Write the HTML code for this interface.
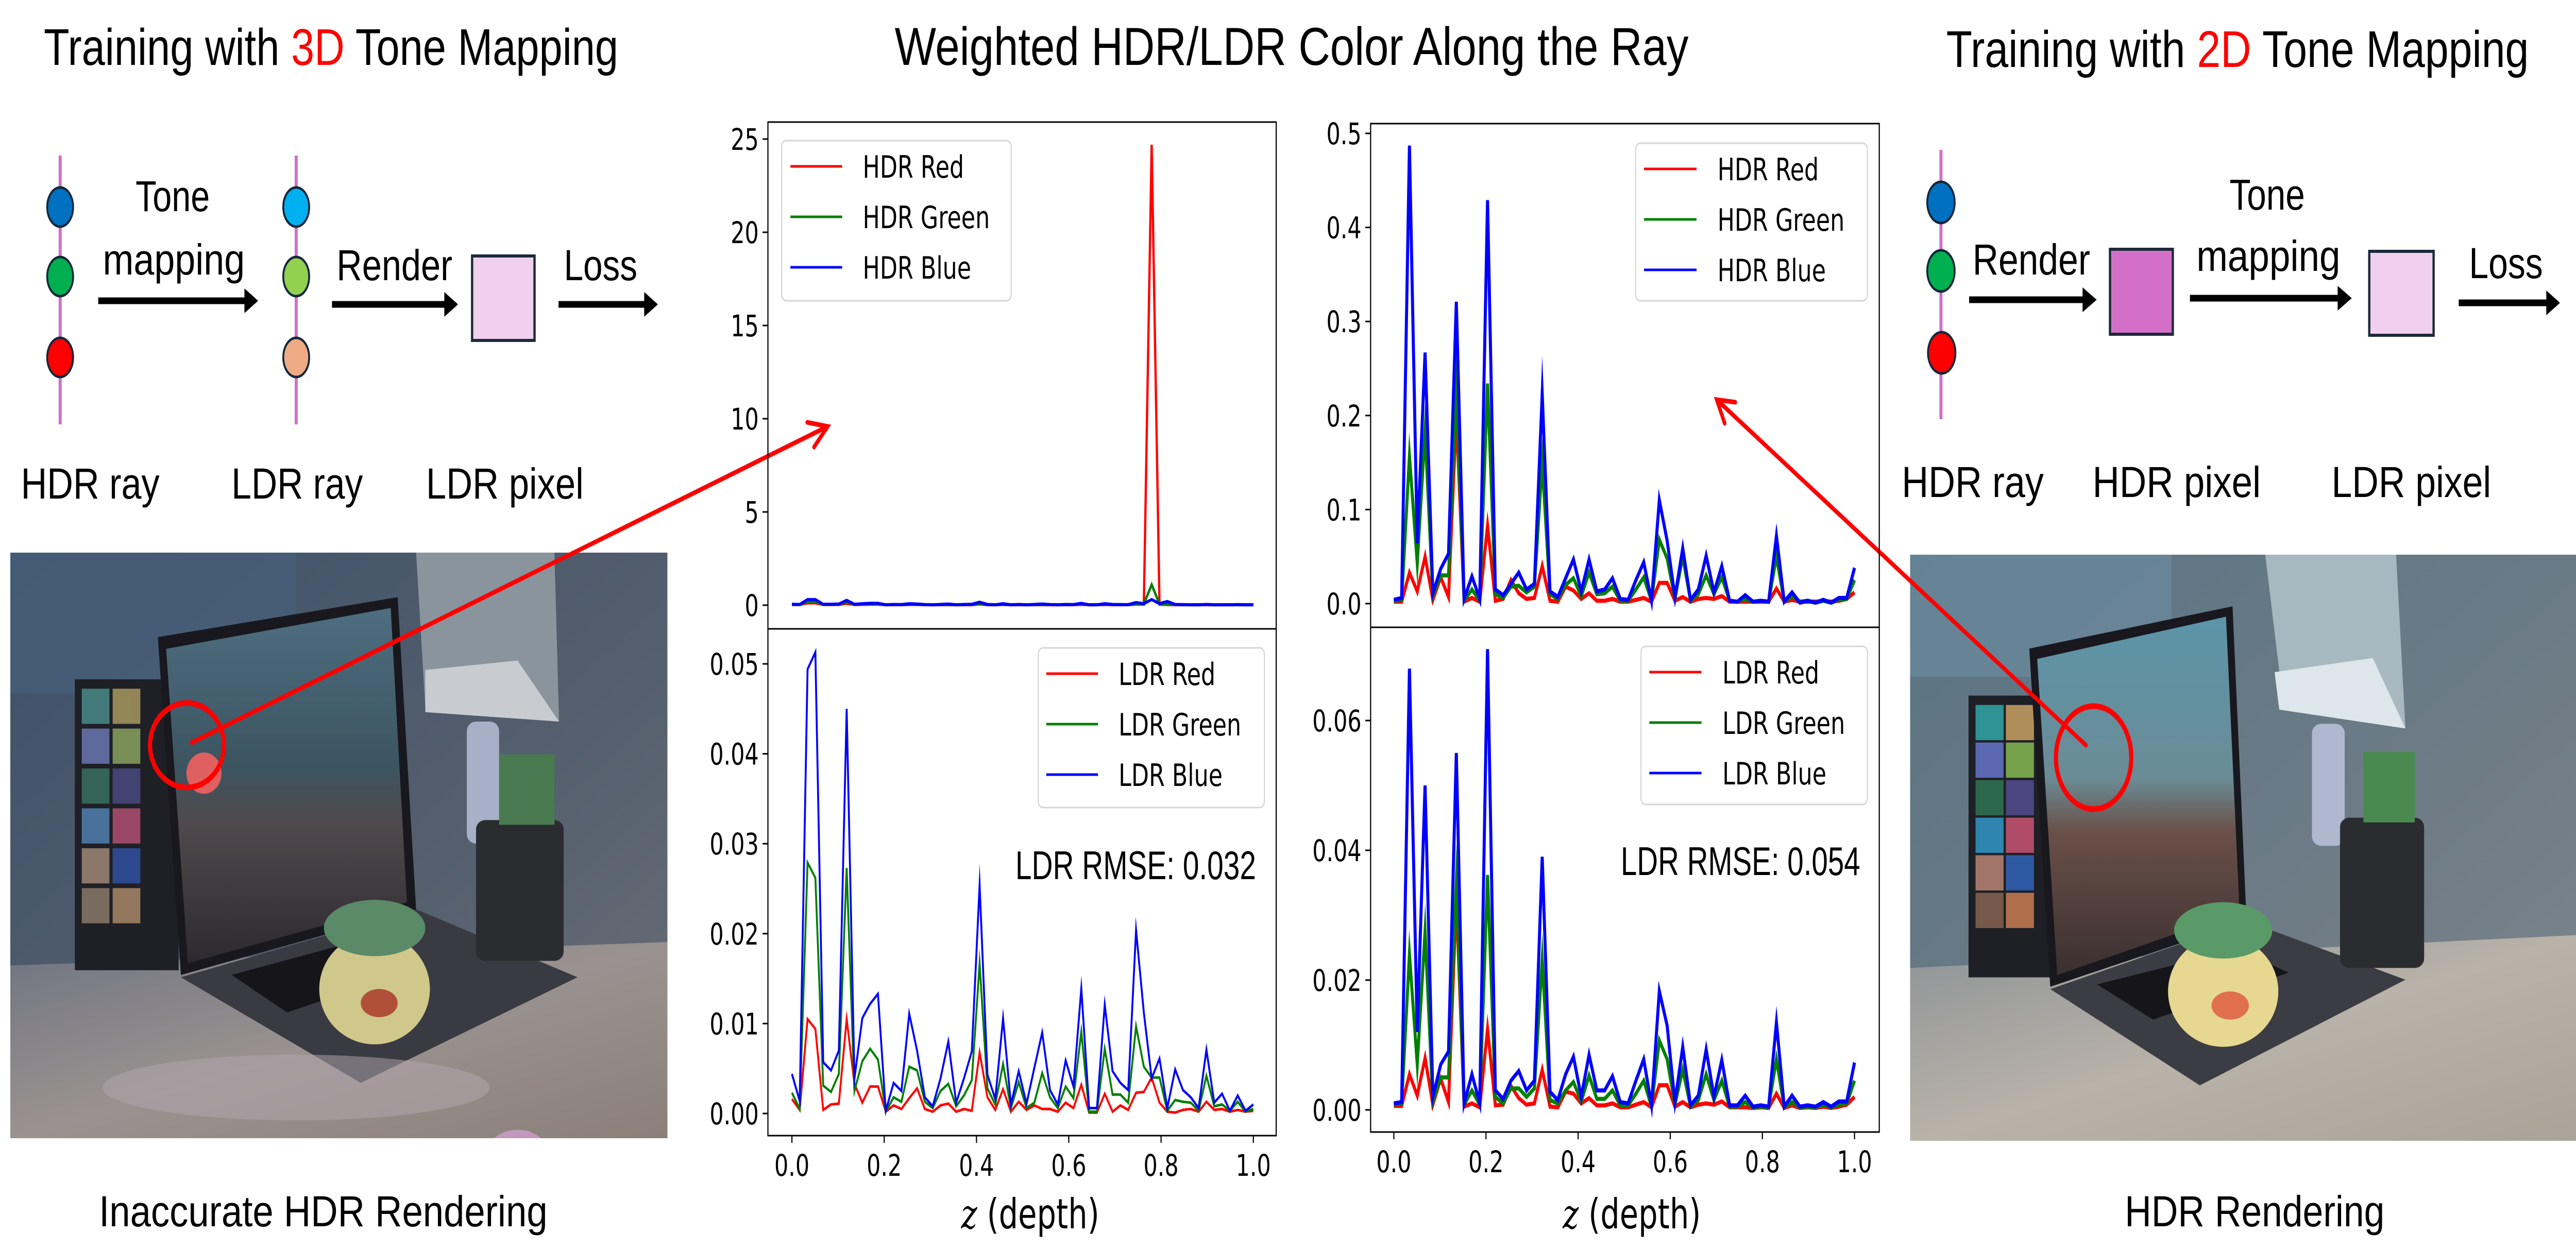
<!DOCTYPE html>
<html><head><meta charset="utf-8"><style>
html,body{margin:0;padding:0;background:#fff;width:100%;height:100%;overflow:hidden}
#fig{display:block;width:100vw;height:100vh}
.dg{font-family:"Liberation Sans",sans-serif;fill:#000}
.mpl{font-family:"DejaVu Sans","Liberation Sans",sans-serif;fill:#000}
</style></head><body>
<svg id="fig" viewBox="0 0 6766 2429" preserveAspectRatio="none" xmlns="http://www.w3.org/2000/svg">
<defs>
<linearGradient id="wallL" x1="0" y1="0" x2="1" y2="1"><stop offset="0" stop-color="#3e5068"/><stop offset="0.6" stop-color="#55606e"/><stop offset="1" stop-color="#6a7078"/></linearGradient>
<linearGradient id="deskL" x1="0" y1="0" x2="1" y2="1"><stop offset="0" stop-color="#6f7480"/><stop offset="0.5" stop-color="#9a9290"/><stop offset="1" stop-color="#8a8078"/></linearGradient>
<linearGradient id="wallR" x1="0" y1="0" x2="1" y2="1"><stop offset="0" stop-color="#5a7484"/><stop offset="0.6" stop-color="#6e7c86"/><stop offset="1" stop-color="#7e868c"/></linearGradient>
<linearGradient id="deskR" x1="0" y1="0" x2="1" y2="1"><stop offset="0" stop-color="#8c9296"/><stop offset="0.5" stop-color="#b8b2a8"/><stop offset="1" stop-color="#aaa398"/></linearGradient>
<linearGradient id="scrL" x1="0" y1="0" x2="0" y2="1"><stop offset="0" stop-color="#4e6e80"/><stop offset="0.45" stop-color="#3c5460"/><stop offset="0.6" stop-color="#504a4c"/><stop offset="1" stop-color="#2c2a30"/></linearGradient>
<linearGradient id="scrR" x1="0" y1="0" x2="0" y2="1"><stop offset="0" stop-color="#5c94a8"/><stop offset="0.45" stop-color="#6a8c96"/><stop offset="0.6" stop-color="#6a5048"/><stop offset="1" stop-color="#3a3030"/></linearGradient>
</defs>

<!-- ===== Left diagram ===== -->
<g>
<text class="dg" x="115" y="126" font-size="100" textLength="1509" lengthAdjust="spacingAndGlyphs">Training with <tspan fill="#ff0000">3D</tspan> Tone Mapping</text>
<line x1="158" y1="302" x2="158" y2="824" stroke="#d070c8" stroke-width="8"/>
<ellipse cx="158" cy="402" rx="34" ry="38" fill="#0070c0" stroke="#14283a" stroke-width="5"/>
<ellipse cx="158" cy="537" rx="34" ry="38" fill="#00b050" stroke="#14283a" stroke-width="5"/>
<ellipse cx="158" cy="694" rx="34" ry="38" fill="#ff0000" stroke="#14283a" stroke-width="5"/>
<text class="dg" x="356" y="410" font-size="84" textLength="195" lengthAdjust="spacingAndGlyphs">Tone</text>
<text class="dg" x="270" y="533" font-size="84" textLength="373" lengthAdjust="spacingAndGlyphs">mapping</text>
<line x1="258" y1="584" x2="650" y2="584" stroke="#000" stroke-width="13"/><polygon points="642,560 678,584 642,608" fill="#000"/>
<line x1="778" y1="302" x2="778" y2="824" stroke="#d070c8" stroke-width="8"/>
<ellipse cx="778" cy="402" rx="34" ry="38" fill="#00b0f0" stroke="#14283a" stroke-width="5"/>
<ellipse cx="778" cy="537" rx="34" ry="38" fill="#92d050" stroke="#14283a" stroke-width="5"/>
<ellipse cx="778" cy="694" rx="34" ry="38" fill="#eeaa84" stroke="#14283a" stroke-width="5"/>
<text class="dg" x="884" y="544" font-size="84" textLength="304" lengthAdjust="spacingAndGlyphs">Render</text>
<line x1="872" y1="591" x2="1175" y2="591" stroke="#000" stroke-width="13"/><polygon points="1167,567 1203,591 1167,615" fill="#000"/>
<rect x="1240" y="497" width="164" height="164" fill="#f0d0ee" stroke="#1c2a3a" stroke-width="6"/>
<text class="dg" x="1481" y="544" font-size="84" textLength="193" lengthAdjust="spacingAndGlyphs">Loss</text>
<line x1="1467" y1="591" x2="1700" y2="591" stroke="#000" stroke-width="13"/><polygon points="1692,567 1728,591 1692,615" fill="#000"/>
<text class="dg" x="55" y="968" font-size="84" textLength="364" lengthAdjust="spacingAndGlyphs">HDR  ray</text>
<text class="dg" x="608" y="968" font-size="84" textLength="345" lengthAdjust="spacingAndGlyphs">LDR  ray</text>
<text class="dg" x="1119" y="968" font-size="84" textLength="414" lengthAdjust="spacingAndGlyphs">LDR  pixel</text>
</g>

<!-- ===== Right diagram ===== -->
<g>
<text class="dg" x="5112" y="130" font-size="100" textLength="1530" lengthAdjust="spacingAndGlyphs">Training with <tspan fill="#ff0000">2D</tspan> Tone Mapping</text>
<line x1="5098" y1="291" x2="5098" y2="814" stroke="#d070c8" stroke-width="8"/>
<ellipse cx="5098" cy="393" rx="36" ry="40" fill="#0070c0" stroke="#14283a" stroke-width="5"/>
<ellipse cx="5098" cy="526" rx="36" ry="40" fill="#00b050" stroke="#14283a" stroke-width="5"/>
<ellipse cx="5100" cy="685" rx="36" ry="40" fill="#ff0000" stroke="#14283a" stroke-width="5"/>
<text class="dg" x="5181" y="533" font-size="84" textLength="309" lengthAdjust="spacingAndGlyphs">Render</text>
<line x1="5172" y1="582" x2="5478" y2="582" stroke="#000" stroke-width="13"/><polygon points="5470,558 5507,582 5470,606" fill="#000"/>
<rect x="5542" y="484" width="165" height="165" fill="#d46fc8" stroke="#1c2a3a" stroke-width="6"/>
<text class="dg" x="5856" y="407" font-size="84" textLength="198" lengthAdjust="spacingAndGlyphs">Tone</text>
<text class="dg" x="5769" y="526" font-size="84" textLength="378" lengthAdjust="spacingAndGlyphs">mapping</text>
<line x1="5752" y1="579" x2="6148" y2="579" stroke="#000" stroke-width="13"/><polygon points="6140,555 6177,579 6140,603" fill="#000"/>
<rect x="6223" y="488" width="169" height="163" fill="#f0d0ee" stroke="#1c2a3a" stroke-width="6"/>
<text class="dg" x="6485" y="540" font-size="84" textLength="194" lengthAdjust="spacingAndGlyphs">Loss</text>
<line x1="6458" y1="588" x2="6696" y2="588" stroke="#000" stroke-width="13"/><polygon points="6688,564 6724,588 6688,612" fill="#000"/>
<text class="dg" x="4995" y="965" font-size="84" textLength="373" lengthAdjust="spacingAndGlyphs">HDR  ray</text>
<text class="dg" x="5496" y="965" font-size="84" textLength="442" lengthAdjust="spacingAndGlyphs">HDR  pixel</text>
<text class="dg" x="6124" y="965" font-size="84" textLength="419" lengthAdjust="spacingAndGlyphs">LDR  pixel</text>
</g>

<!-- ===== Photos ===== -->
<svg x="27" y="1073" width="1726" height="1137" viewBox="0 0 1425 1248" preserveAspectRatio="none">
<rect width="1425" height="1248" fill="url(#wallL)"/>
<rect x="0" y="0" width="620" height="300" fill="#47607c" opacity="0.7"/>
<polygon points="0,880 1425,830 1425,1248 0,1248" fill="url(#deskL)"/>
<rect x="140" y="270" width="225" height="620" fill="#1e2026"/>
<g opacity="0.85"><rect x="155" y="290" width="60" height="75" fill="#4a8a8a"/><rect x="222" y="290" width="60" height="75" fill="#a89860"/><rect x="155" y="375" width="60" height="75" fill="#6a78b0"/><rect x="222" y="375" width="60" height="75" fill="#8aa060"/><rect x="155" y="460" width="60" height="75" fill="#3a7060"/><rect x="222" y="460" width="60" height="75" fill="#4a4a80"/><rect x="155" y="545" width="60" height="75" fill="#5080b0"/><rect x="222" y="545" width="60" height="75" fill="#b05070"/><rect x="155" y="630" width="60" height="75" fill="#a08878"/><rect x="222" y="630" width="60" height="75" fill="#3050a0"/><rect x="155" y="715" width="60" height="75" fill="#8a7a6a"/><rect x="222" y="715" width="60" height="75" fill="#a88868"/></g>
<polygon points="320,180 840,95 880,760 370,900" fill="#18181e"/>
<polygon points="338,205 825,118 860,745 385,875" fill="url(#scrL)"/>
<polygon points="370,905 880,760 1230,905 760,1130" fill="#3a3a42"/>
<polygon points="480,900 780,820 900,880 600,980" fill="#15151a"/>
<polygon points="880,0 1180,0 1190,360 900,330" fill="#8a949c"/>
<polygon points="900,250 1100,230 1190,360 900,340" fill="#c8ccd0"/>
<rect x="990" y="360" width="70" height="260" rx="20" fill="#a8b0c8"/>
<rect x="1010" y="570" width="190" height="300" rx="20" fill="#2a2c30"/>
<rect x="1060" y="430" width="120" height="150" fill="#4a7a50"/>
<ellipse cx="790" cy="930" rx="120" ry="118" fill="#cfc88a"/>
<ellipse cx="790" cy="800" rx="110" ry="60" fill="#5a8a68"/>
<ellipse cx="800" cy="960" rx="40" ry="30" fill="#b0503a"/>
<ellipse cx="620" cy="1140" rx="420" ry="70" fill="#b4a8b0" opacity="0.5"/>
<ellipse cx="1100" cy="1270" rx="60" ry="40" fill="#d8a0d8" opacity="0.7"/>
<ellipse cx="420" cy="470" rx="38" ry="44" fill="#e06060"/>
</svg>
<svg x="5017" y="1077" width="1749" height="1138" viewBox="0 0 1425 1248" preserveAspectRatio="none">
<rect width="1425" height="1248" fill="url(#wallR)"/>
<rect x="0" y="0" width="560" height="260" fill="#6b8a9c" opacity="0.7"/>
<polygon points="0,880 1425,810 1425,1248 0,1248" fill="url(#deskR)"/>
<rect x="125" y="300" width="225" height="600" fill="#1e2026"/>
<g opacity="0.9"><rect x="140" y="320" width="60" height="75" fill="#30a0a0"/><rect x="205" y="320" width="60" height="75" fill="#c09a60"/><rect x="140" y="400" width="60" height="75" fill="#6070c0"/><rect x="205" y="400" width="60" height="75" fill="#80b050"/><rect x="140" y="480" width="60" height="75" fill="#307050"/><rect x="205" y="480" width="60" height="75" fill="#504a8a"/><rect x="140" y="560" width="60" height="75" fill="#3090c0"/><rect x="205" y="560" width="60" height="75" fill="#c05070"/><rect x="140" y="640" width="60" height="75" fill="#b08070"/><rect x="205" y="640" width="60" height="75" fill="#3060b0"/><rect x="140" y="720" width="60" height="75" fill="#806050"/><rect x="205" y="720" width="60" height="75" fill="#c07850"/></g>
<polygon points="255,200 690,110 720,780 300,920" fill="#18181e"/>
<polygon points="272,222 676,132 705,760 315,895" fill="url(#scrR)"/>
<polygon points="300,925 720,780 1060,905 620,1130" fill="#3c3c44"/>
<polygon points="400,915 700,840 810,890 520,990" fill="#15151a"/>
<polygon points="760,0 1040,0 1060,370 800,330" fill="#a8b8c0"/>
<polygon points="780,250 990,220 1060,370 790,330" fill="#dde6ea"/>
<rect x="860" y="360" width="70" height="260" rx="20" fill="#b0b8d0"/>
<rect x="920" y="560" width="180" height="320" rx="20" fill="#2a2c30"/>
<rect x="970" y="420" width="110" height="150" fill="#4a8a50"/>
<ellipse cx="670" cy="930" rx="118" ry="118" fill="#e6d890"/>
<ellipse cx="670" cy="800" rx="105" ry="60" fill="#5a9a68"/>
<ellipse cx="685" cy="960" rx="40" ry="30" fill="#e07050"/>
</svg>

<!-- photo circles & connector arrows -->
<ellipse cx="491" cy="1447" rx="97" ry="82" fill="none" stroke="#ff0000" stroke-width="11"/>
<ellipse cx="5499" cy="1471" rx="99" ry="100" fill="none" stroke="#ff0000" stroke-width="11"/>
<g stroke="#ff0000" stroke-width="9" fill="none" stroke-linecap="round">
<line x1="503" y1="1442" x2="2174" y2="828"/>
<polyline points="2120,820 2174,828 2138,868"/>
<line x1="5479" y1="1447" x2="4509" y2="776"/>
<polyline points="4530,822 4509,776 4558,781"/>
</g>

<text class="dg" x="260" y="2381" font-size="84" textLength="1178" lengthAdjust="spacingAndGlyphs">Inaccurate  HDR  Rendering</text>
<text class="dg" x="5581" y="2381" font-size="84" textLength="682" lengthAdjust="spacingAndGlyphs">HDR  Rendering</text>
<text class="dg" x="2350" y="126" font-size="104" textLength="2085" lengthAdjust="spacingAndGlyphs">Weighted  HDR/LDR  Color  Along  the  Ray</text>

<g id="charts"></g>
</svg>

<script>
// ---- data (60 samples along the ray) ----
const zTicks = [0.0, 0.2, 0.4, 0.6, 0.8, 1.0];
const zTickLabels = ["0.0", "0.2", "0.4", "0.6", "0.8", "1.0"];

// Left (3D tone mapping)
const leftHdrRed   = [0.03,0.03,0.12,0.12,0.03,0.03,0.03,0.1,0.03,0.04,0.05,0.05,0.02,0.02,0.02,0.03,0.03,0.02,0.02,0.02,0.02,0.02,0.02,0.02,0.06,0.02,0.02,0.03,0.02,0.02,0.02,0.02,0.02,0.02,0.02,0.02,0.02,0.04,0.02,0.02,0.03,0.02,0.02,0.02,0.05,0.05,24.7,0.05,0.03,0.02,0.02,0.02,0.02,0.02,0.02,0.02,0.02,0.02,0.02,0.02];
const leftHdrGreen = [0.04,0.03,0.2,0.2,0.04,0.04,0.05,0.18,0.04,0.06,0.07,0.07,0.02,0.03,0.03,0.05,0.05,0.03,0.02,0.03,0.04,0.02,0.03,0.04,0.1,0.03,0.02,0.05,0.02,0.03,0.02,0.03,0.04,0.03,0.02,0.03,0.03,0.07,0.02,0.02,0.06,0.03,0.03,0.02,0.08,0.06,1.1,0.06,0.08,0.03,0.02,0.02,0.02,0.03,0.02,0.02,0.02,0.02,0.02,0.02];
const leftHdrBlue  = [0.05,0.04,0.3,0.3,0.05,0.05,0.06,0.26,0.05,0.08,0.1,0.1,0.02,0.04,0.03,0.08,0.06,0.03,0.02,0.04,0.06,0.02,0.04,0.05,0.16,0.04,0.02,0.08,0.02,0.04,0.02,0.04,0.06,0.03,0.02,0.04,0.03,0.1,0.02,0.02,0.08,0.04,0.03,0.03,0.14,0.08,0.3,0.08,0.2,0.04,0.03,0.02,0.02,0.04,0.02,0.02,0.02,0.03,0.02,0.02];
const leftLdrRed   = [0.0016,0.0004,0.0105,0.0094,0.0004,0.001,0.0011,0.0105,0.0033,0.0012,0.003,0.003,0.0002,0.0009,0.0005,0.0017,0.0028,0.0005,0.0002,0.0009,0.0011,0.0002,0.0005,0.0003,0.0068,0.0018,0.0004,0.0027,0.0002,0.0013,0.0004,0.0009,0.0005,0.0005,0.0002,0.0012,0.0006,0.0032,0.0001,0.0001,0.0022,0.0002,0.0009,0.0004,0.0023,0.0024,0.004,0.0012,0.0002,0.0001,0.0004,0.0005,0.0002,0.0013,0.0004,0.0005,0.0002,0.0004,0.0002,0.0003];
const leftLdrGreen = [0.0023,0.0005,0.0279,0.0262,0.0031,0.0024,0.0044,0.0273,0.0025,0.0058,0.0072,0.006,0.0002,0.0018,0.0013,0.0052,0.0048,0.0013,0.0006,0.0025,0.0033,0.0008,0.002,0.0037,0.0167,0.0028,0.001,0.0055,0.0006,0.0035,0.0006,0.0012,0.0045,0.0018,0.0006,0.003,0.0017,0.0091,0.0002,0.0002,0.0072,0.0021,0.0021,0.0012,0.0097,0.0052,0.004,0.004,0.0003,0.0015,0.0013,0.0012,0.0003,0.0042,0.0008,0.001,0.0003,0.0013,0.0002,0.0005];
const leftLdrBlue  = [0.0044,0.0014,0.0494,0.0513,0.0057,0.0048,0.007,0.045,0.0039,0.0106,0.0122,0.0133,0.0003,0.0034,0.0025,0.0111,0.007,0.0018,0.0008,0.0039,0.008,0.0012,0.0039,0.0069,0.0254,0.0043,0.0016,0.0106,0.001,0.0047,0.0011,0.0051,0.009,0.0026,0.001,0.0059,0.003,0.0139,0.0006,0.0006,0.0121,0.0047,0.0034,0.0026,0.0204,0.0112,0.0039,0.0061,0.0006,0.0049,0.0026,0.0018,0.0006,0.0071,0.0012,0.0022,0.0003,0.002,0.0003,0.001];

// Right (2D tone mapping)
const rightHdrRed   = [0.002,0.002,0.033,0.013,0.05,0.004,0.028,0.007,0.2,0.002,0.006,0.002,0.083,0.003,0.005,0.025,0.011,0.005,0.006,0.04,0.003,0.002,0.018,0.014,0.005,0.011,0.003,0.003,0.005,0.002,0.002,0.004,0.006,0.002,0.022,0.022,0.003,0.007,0.002,0.005,0.006,0.005,0.008,0.002,0.002,0.002,0.002,0.002,0.002,0.016,0.002,0.004,0.002,0.002,0.002,0.003,0.002,0.003,0.005,0.012];
const rightHdrGreen = [0.003,0.004,0.157,0.043,0.183,0.008,0.03,0.03,0.227,0.003,0.015,0.003,0.234,0.01,0.006,0.018,0.019,0.012,0.018,0.15,0.01,0.005,0.02,0.027,0.008,0.033,0.01,0.011,0.018,0.003,0.003,0.015,0.028,0.003,0.068,0.048,0.005,0.05,0.003,0.01,0.03,0.01,0.028,0.003,0.002,0.005,0.002,0.003,0.002,0.05,0.002,0.008,0.002,0.003,0.001,0.003,0.001,0.004,0.005,0.025];
const rightHdrBlue  = [0.004,0.006,0.487,0.064,0.267,0.011,0.037,0.053,0.321,0.005,0.029,0.005,0.429,0.015,0.009,0.021,0.033,0.015,0.021,0.223,0.013,0.007,0.027,0.047,0.013,0.047,0.013,0.015,0.027,0.005,0.004,0.025,0.044,0.003,0.11,0.067,0.007,0.059,0.004,0.015,0.051,0.012,0.04,0.003,0.002,0.009,0.002,0.003,0.002,0.072,0.002,0.012,0.001,0.003,0.001,0.004,0.001,0.006,0.006,0.038];
const rightLdrRed   = [0.0006,0.0006,0.0055,0.0022,0.008,0.0008,0.0048,0.0012,0.0325,0.0005,0.001,0.0004,0.0125,0.0007,0.0008,0.0037,0.0018,0.0008,0.001,0.0062,0.0005,0.0004,0.0028,0.0025,0.001,0.0018,0.0007,0.0007,0.001,0.0004,0.0004,0.0008,0.0012,0.0004,0.0038,0.0038,0.0005,0.0012,0.0004,0.0008,0.001,0.0008,0.0013,0.0004,0.0004,0.0004,0.0003,0.0004,0.0003,0.0025,0.0003,0.0007,0.0003,0.0004,0.0003,0.0005,0.0003,0.0005,0.0008,0.002];
const rightLdrGreen = [0.0008,0.001,0.024,0.007,0.0275,0.0012,0.005,0.005,0.035,0.0008,0.003,0.0008,0.0362,0.002,0.001,0.0033,0.0033,0.002,0.0033,0.0232,0.0015,0.001,0.003,0.0043,0.0013,0.0053,0.0017,0.0017,0.003,0.0007,0.0007,0.0025,0.0045,0.0005,0.0107,0.0078,0.0008,0.0062,0.0005,0.0015,0.0055,0.0015,0.0045,0.0005,0.0005,0.0012,0.0004,0.0005,0.0004,0.0078,0.0004,0.0012,0.0004,0.0005,0.0004,0.0008,0.0004,0.0008,0.001,0.0045];
const rightLdrBlue  = [0.001,0.0012,0.068,0.012,0.05,0.002,0.007,0.009,0.055,0.001,0.0055,0.001,0.071,0.003,0.0017,0.0045,0.006,0.003,0.0045,0.039,0.0028,0.0015,0.0055,0.0082,0.002,0.0085,0.003,0.003,0.0052,0.0012,0.001,0.0045,0.0078,0.0007,0.0183,0.013,0.0012,0.0097,0.0007,0.0022,0.0093,0.002,0.0077,0.0007,0.0007,0.0022,0.0005,0.0007,0.0005,0.0135,0.0005,0.0022,0.0005,0.0007,0.0005,0.0012,0.0005,0.0013,0.0013,0.0073];

const leftHdrTicks = [0, 5, 10, 15, 20, 25];
const leftHdrTickLabels = ["0", "5", "10", "15", "20", "25"];
const leftLdrTicks = [0, 0.01, 0.02, 0.03, 0.04, 0.05];
const leftLdrTickLabels = ["0.00", "0.01", "0.02", "0.03", "0.04", "0.05"];
const rightHdrTicks = [0, 0.1, 0.2, 0.3, 0.4, 0.5];
const rightHdrTickLabels = ["0.0", "0.1", "0.2", "0.3", "0.4", "0.5"];
const rightLdrTicks = [0, 0.02, 0.04, 0.06];
const rightLdrTickLabels = ["0.00", "0.02", "0.04", "0.06"];
const rmseValues = ["0.032", "0.054"];

const NS = "http://www.w3.org/2000/svg";
const root = document.getElementById("charts");
function mk(tag, attrs, parent) {
  const e = document.createElementNS(NS, tag);
  for (const k in attrs) e.setAttribute(k, attrs[k]);
  (parent || root).appendChild(e);
  return e;
}
const COLORS = ["#ff0000", "#008000", "#0000ff"];

function drawPanel(cfg) {
  const g = mk("g", {});
  
  
  const xS = v => cfg.x0 + v * (cfg.x1 - cfg.x0);
  const yS = v => cfg.yZero + (v / cfg.yRef) * (cfg.yRefPx - cfg.yZero);
  cfg.ticks.forEach((t, i) => {
    const y = yS(t);
    const tk = mk("line", {x1: cfg.left - 14, y1: y, x2: cfg.left, y2: y, stroke: "#000", "stroke-width": 3}, g);
    
    
    const tx = mk("text", {x: cfg.left - 24, y: y + 21, "text-anchor": "end", "font-size": 58, class: "mpl"}, g);
    tx.textContent = cfg.tickLabels[i];
    
    
  });
  const n = cfg.series[0].length;
  cfg.series.forEach((s, k) => {
    const pts = s.map((v, i) => xS(i / (n - 1)).toFixed(1) + "," + yS(v).toFixed(1)).join(" ");
    const pl = mk("polyline", {points: pts, fill: "none", stroke: COLORS[k], "stroke-width": cfg.lw, "stroke-linejoin": "miter", "stroke-miterlimit": 20}, g);
    
    
  });
  const L = cfg.legend;
  const lb = mk("rect", {x: L.x, y: L.y, width: L.w, height: L.h, rx: 12, fill: "#fff", "fill-opacity": 0.8, stroke: "#d6d6d6", "stroke-width": 3}, g);
  
  
  cfg.seriesNames.forEach((nm, k) => {
    const cy = L.y + 50 + k * 98;
    const ll = mk("line", {x1: L.lx0, y1: cy, x2: L.lx1, y2: cy, stroke: COLORS[k], "stroke-width": 5}, g);
    
    
    const lt = mk("text", {x: L.tx, y: cy + 22, "font-size": 60, class: "mpl"}, g);
    lt.textContent = nm;
    
    
  });
}

function drawChart(c) {
  const g = mk("g", {});
  
  
  c.hdr.left = c.left; c.ldr.left = c.left;
  c.hdr.x0 = c.x0; c.hdr.x1 = c.x1; c.ldr.x0 = c.x0; c.ldr.x1 = c.x1;
  drawPanel(c.hdr);
  drawPanel(c.ldr);
  const fr = mk("rect", {x: c.left, y: c.top, width: c.right - c.left, height: c.bottom - c.top, fill: "none", stroke: "#000", "stroke-width": 3}, g);
  
  
  const dv = mk("line", {x1: c.left, y1: c.mid, x2: c.right, y2: c.mid, stroke: "#000", "stroke-width": 3}, g);
  
  
  zTicks.forEach((t, i) => {
    const x = c.x0 + t * (c.x1 - c.x0);
    const tk = mk("line", {x1: x, y1: c.bottom, x2: x, y2: c.bottom + 14, stroke: "#000", "stroke-width": 3}, g);
    
    
    const tx = mk("text", {x: x, y: c.bottom + 78, "text-anchor": "middle", "font-size": 58, class: "mpl"}, g);
    tx.textContent = zTickLabels[i];
    
    
  });
  const xl = mk("text", {x: (c.x0 + c.x1) / 2 + 20, y: 2385, "text-anchor": "middle", "font-size": 80, class: "mpl"}, g);
  xl.innerHTML = '<tspan font-family="DejaVu Serif, serif" font-style="italic">z</tspan> (depth)';
  
  
  const rm = mk("text", {x: c.rmseX, y: c.rmseY, "font-size": 78, "font-family": "Liberation Sans, sans-serif", textLength: c.rmseW, lengthAdjust: "spacingAndGlyphs"}, g);
  rm.textContent = "LDR RMSE:  " + c.rmse;
  
  
}

drawChart({
  name: "left-chart", left: 2017, right: 3352, top: 237, mid: 1221, bottom: 2205, x0: 2080, x1: 3292,
  rmse: rmseValues[0], rmseX: 2667, rmseY: 1707, rmseW: 632,
  hdr: {name: "left-hdr-panel", series: [leftHdrRed, leftHdrGreen, leftHdrBlue], seriesNames: ["HDR Red", "HDR Green", "HDR Blue"],
        ticks: leftHdrTicks, tickLabels: leftHdrTickLabels, yZero: 1175, yRef: 25, yRefPx: 270, lw: 6,
        legend: {x: 2053, y: 273, w: 603, h: 311, lx0: 2076, lx1: 2212, tx: 2266}},
  ldr: {name: "left-ldr-panel", series: [leftLdrRed, leftLdrGreen, leftLdrBlue], seriesNames: ["LDR Red", "LDR Green", "LDR Blue"],
        ticks: leftLdrTicks, tickLabels: leftLdrTickLabels, yZero: 2162, yRef: 0.05, yRefPx: 1289, lw: 5,
        legend: {x: 2727, y: 1258, w: 594, h: 310, lx0: 2748, lx1: 2884, tx: 2938}}
});
drawChart({
  name: "right-chart", left: 3600, right: 4936, top: 240, mid: 1218, bottom: 2198, x0: 3661, x1: 4871,
  rmse: rmseValues[1], rmseX: 4257, rmseY: 1699, rmseW: 629,
  hdr: {name: "right-hdr-panel", series: [rightHdrRed, rightHdrGreen, rightHdrBlue], seriesNames: ["HDR Red", "HDR Green", "HDR Blue"],
        ticks: rightHdrTicks, tickLabels: rightHdrTickLabels, yZero: 1172, yRef: 0.5, yRefPx: 259, lw: 8,
        legend: {x: 4296, y: 278, w: 609, h: 306, lx0: 4318, lx1: 4456, tx: 4511}},
  ldr: {name: "right-ldr-panel", series: [rightLdrRed, rightLdrGreen, rightLdrBlue], seriesNames: ["LDR Red", "LDR Green", "LDR Blue"],
        ticks: rightLdrTicks, tickLabels: rightLdrTickLabels, yZero: 2155, yRef: 0.06, yRefPx: 1399, lw: 8,
        legend: {x: 4310, y: 1255, w: 595, h: 307, lx0: 4332, lx1: 4469, tx: 4524}}
});
</script>
</body></html>
